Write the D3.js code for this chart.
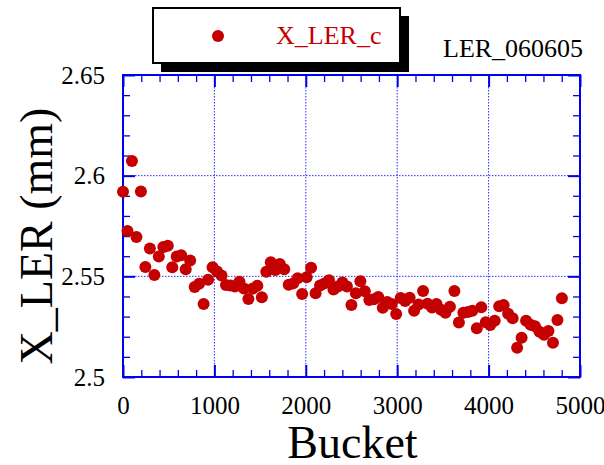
<!DOCTYPE html>
<html>
<head>
<meta charset="utf-8">
<script src="https://cdn.jsdelivr.net/npm/d3@7"></script>
<style>
  html, body { margin: 0; padding: 0; background: #ffffff; }
  svg { display: block; }
  text { font-family: "Liberation Serif", "Times New Roman", "DejaVu Serif", serif; }
</style>
</head>
<body>
<svg id="chart" width="604" height="465"></svg>
<script>
// Horizontal beam position per bucket, LER run of 06-06-05
const buckets = [
  0, 49, 98, 147, 196, 245, 294, 343, 392, 441,
  490, 539, 588, 637, 686, 735, 784, 833, 882, 931,
  980, 1029, 1078, 1127, 1176, 1225, 1274, 1323, 1372, 1421,
  1470, 1519, 1568, 1617, 1666, 1715, 1764, 1813, 1862, 1911,
  1960, 2009, 2058, 2107, 2156, 2205, 2254, 2303, 2352, 2401,
  2450, 2499, 2548, 2597, 2646, 2695, 2744, 2793, 2842, 2891,
  2940, 2989, 3038, 3087, 3136, 3185, 3234, 3283, 3332, 3381,
  3430, 3479, 3528, 3577, 3626, 3675, 3724, 3773, 3822, 3871,
  3920, 3969, 4018, 4067, 4116, 4165, 4214, 4263, 4312, 4361,
  4410, 4459, 4508, 4557, 4606, 4655, 4704, 4753, 4802
];
const xLER = [
  2.5920, 2.5725, 2.6073, 2.5695, 2.5921, 2.5546, 2.5638, 2.5507, 2.5598, 2.5646,
  2.5652, 2.5545, 2.5599, 2.5605, 2.5535, 2.5579, 2.5447, 2.5463, 2.5362, 2.5483,
  2.5545, 2.5524, 2.5504, 2.5457, 2.5455, 2.5449, 2.5473, 2.5440, 2.5387, 2.5439,
  2.5453, 2.5396, 2.5523, 2.5570, 2.5531, 2.5561, 2.5535, 2.5458, 2.5465, 2.5490,
  2.5412, 2.5495, 2.5543, 2.5416, 2.5454, 2.5465, 2.5481, 2.5434, 2.5450, 2.5469,
  2.5449, 2.5358, 2.5416, 2.5475, 2.5426, 2.5382, 2.5386, 2.5397, 2.5344, 2.5372,
  2.5362, 2.5313, 2.5392, 2.5378, 2.5394, 2.5329, 2.5360, 2.5427, 2.5364, 2.5345,
  2.5363, 2.5334, 2.5319, 2.5349, 2.5427, 2.5271, 2.5319, 2.5323, 2.5329, 2.5242,
  2.5347, 2.5272, 2.5258, 2.5279, 2.5351, 2.5357, 2.5314, 2.5292, 2.5145, 2.5195,
  2.5279, 2.5260, 2.5252, 2.5225, 2.5210, 2.5228, 2.5170, 2.5283, 2.5391
];

const xTicks = [0, 1000, 2000, 3000, 4000, 5000];
const xTickLabels = ["0", "1000", "2000", "3000", "4000", "5000"];
const xMinorTicks = [200, 400, 600, 800, 1200, 1400, 1600, 1800, 2200, 2400, 2600, 2800,
                     3200, 3400, 3600, 3800, 4200, 4400, 4600, 4800];
const yTicks = [2.5, 2.55, 2.6, 2.65];
const yTickLabels = ["2.5", "2.55", "2.6", "2.65"];
const yMinorTicks = [2.51, 2.52, 2.53, 2.54, 2.56, 2.57, 2.58, 2.59, 2.61, 2.62, 2.63, 2.64];
const xGrid = [1000, 2000, 3000, 4000];
const yGrid = [2.55, 2.6];

const seriesName = "X_LER_c";
const runName = "LER_060605";
const xTitle = "Bucket";
const yTitle = "X_LER (mm)";

const blue = "#0000ee";
const red = "#c40000";

const plot = { left: 123, right: 580, top: 75, bottom: 377 };

const svg = d3.select("#chart");

const x = d3.scaleLinear().domain([0, 5000]).range([plot.left, plot.right]);
const y = d3.scaleLinear().domain([2.5, 2.65]).range([plot.bottom, plot.top]);

// dotted grid
const grid = svg.append("g").attr("stroke", "#2a2aff").attr("stroke-width", 1)
  .attr("stroke-dasharray", "1.5,1.5");
grid.selectAll("line.gx").data(xGrid).join("line")
  .attr("x1", d => x(d)).attr("x2", d => x(d))
  .attr("y1", plot.top).attr("y2", plot.bottom);
grid.selectAll("line.gy").data(yGrid).join("line")
  .attr("x1", plot.left).attr("x2", plot.right)
  .attr("y1", d => y(d)).attr("y2", d => y(d));

// inward ticks on all four sides
function styleAxis(g) {
  g.select(".domain").remove();
  g.selectAll(".tick line").attr("stroke", blue);
}
const majorLen = 12, minorLen = 7;

svg.append("g").attr("transform", `translate(0,${plot.bottom})`)
  .call(d3.axisBottom(x).tickValues(xTicks).tickSize(-majorLen).tickPadding(19)
    .tickFormat((d, i) => xTickLabels[i]))
  .call(styleAxis)
  .call(g => g.selectAll(".tick line").attr("stroke-width", 2))
  .call(g => g.selectAll("text").attr("font-size", 25).attr("fill", "#000")
    .attr("font-family", "'Liberation Serif', 'Times New Roman', serif"));
svg.append("g").attr("transform", `translate(0,${plot.bottom})`)
  .call(d3.axisBottom(x).tickValues(xMinorTicks).tickSize(-minorLen).tickFormat(""))
  .call(styleAxis).call(g => g.selectAll(".tick line").attr("stroke-width", 1.3));
svg.append("g").attr("transform", `translate(0,${plot.top})`)
  .call(d3.axisTop(x).tickValues(xTicks).tickSize(-majorLen).tickFormat(""))
  .call(styleAxis).call(g => g.selectAll(".tick line").attr("stroke-width", 2));
svg.append("g").attr("transform", `translate(0,${plot.top})`)
  .call(d3.axisTop(x).tickValues(xMinorTicks).tickSize(-minorLen).tickFormat(""))
  .call(styleAxis).call(g => g.selectAll(".tick line").attr("stroke-width", 1.3));

svg.append("g").attr("transform", `translate(${plot.left},0)`)
  .call(d3.axisLeft(y).tickValues(yTicks).tickSize(-majorLen).tickPadding(18)
    .tickFormat((d, i) => yTickLabels[i]))
  .call(styleAxis)
  .call(g => g.selectAll(".tick line").attr("stroke-width", 2))
  .call(g => g.selectAll("text").attr("font-size", 25).attr("fill", "#000")
    .attr("font-family", "'Liberation Serif', 'Times New Roman', serif"));
svg.append("g").attr("transform", `translate(${plot.left},0)`)
  .call(d3.axisLeft(y).tickValues(yMinorTicks).tickSize(-minorLen).tickFormat(""))
  .call(styleAxis).call(g => g.selectAll(".tick line").attr("stroke-width", 1.3));
svg.append("g").attr("transform", `translate(${plot.right},0)`)
  .call(d3.axisRight(y).tickValues(yTicks).tickSize(-majorLen).tickFormat(""))
  .call(styleAxis).call(g => g.selectAll(".tick line").attr("stroke-width", 2));
svg.append("g").attr("transform", `translate(${plot.right},0)`)
  .call(d3.axisRight(y).tickValues(yMinorTicks).tickSize(-minorLen).tickFormat(""))
  .call(styleAxis).call(g => g.selectAll(".tick line").attr("stroke-width", 1.3));

// plot frame
svg.append("rect")
  .attr("x", plot.left).attr("y", plot.top)
  .attr("width", plot.right - plot.left).attr("height", plot.bottom - plot.top)
  .attr("fill", "none").attr("stroke", blue).attr("stroke-width", 2);

// data points
const points = buckets.map((b, i) => ({ b, v: xLER[i] }));
svg.append("g").selectAll("circle").data(points).join("circle")
  .attr("cx", d => x(d.b)).attr("cy", d => y(d.v))
  .attr("r", 6).attr("fill", red);

// axis titles
svg.append("text")
  .attr("x", (plot.left + plot.right) / 2 + 1).attr("y", 458)
  .attr("text-anchor", "middle").attr("font-size", 46).attr("fill", "#000")
  .text(xTitle);
svg.append("text")
  .attr("transform", `translate(52,${(plot.top + plot.bottom) / 2 + 10}) rotate(-90)`)
  .attr("text-anchor", "middle").attr("font-size", 46).attr("fill", "#000")
  .text(yTitle);

// legend box with drop shadow
const legend = svg.append("g");
legend.append("path")
  .attr("d", "M161,16 L409,16 L409,72 L161,72 Z")
  .attr("fill", "#000");
legend.append("rect")
  .attr("x", 153).attr("y", 8).attr("width", 247).attr("height", 55)
  .attr("fill", "#fff").attr("stroke", "#000").attr("stroke-width", 2);
legend.append("circle")
  .attr("cx", 218).attr("cy", 36).attr("r", 6).attr("fill", red);
legend.append("text")
  .attr("x", 276).attr("y", 44).attr("font-size", 26).attr("fill", red)
  .text(seriesName);

svg.append("text")
  .attr("x", 443).attr("y", 57).attr("font-size", 26).attr("fill", "#000")
  .text(runName);
</script>
</body>
</html>
